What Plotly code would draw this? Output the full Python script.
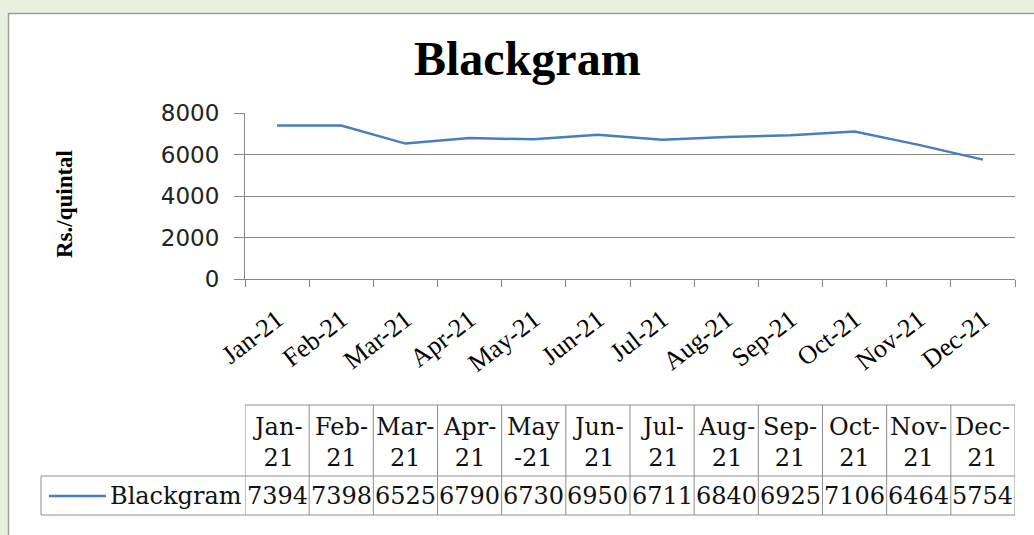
import plotly.graph_objects as go

months = ["Jan-21", "Feb-21", "Mar-21", "Apr-21", "May-21", "Jun-21",
          "Jul-21", "Aug-21", "Sep-21", "Oct-21", "Nov-21", "Dec-21"]
table_headers = ["Jan-<br>21", "Feb-<br>21", "Mar-<br>21", "Apr-<br>21", "May<br>-21", "Jun-<br>21",
                 "Jul-<br>21", "Aug-<br>21", "Sep-<br>21", "Oct-<br>21", "Nov-<br>21", "Dec-<br>21"]
blackgram = [7394, 7398, 6525, 6790, 6730, 6950, 6711, 6840, 6925, 7106, 6464, 5754]
series_name = "Blackgram"
y_ticks = [0, 2000, 4000, 6000, 8000]

W, H = 1034, 535
def px(x):
    return x / W
def py(y):
    return 1 - y / H

line_color = "#4a7ebb"
grid_color = "#878787"
tbl_color = "#8e8e8e"

fig = go.Figure()
fig.add_trace(go.Scatter(x=months, y=blackgram, mode="lines", name=series_name,
                         line=dict(color=line_color, width=2.5), showlegend=False))

shapes = []
# white panel
shapes.append(dict(type="rect", xref="paper", yref="paper", x0=px(8.5), x1=px(1040),
                   y0=py(540), y1=py(13.5), fillcolor="white",
                   line=dict(color="#9a9a9a", width=1.5), layer="below"))

# table
top, mid, bot = py(405), py(476), py(515)
n = len(months)
shapes.append(dict(type="line", xref="x", yref="paper", x0=-0.5, x1=n - 0.5, y0=top, y1=top,
                   line=dict(color=tbl_color, width=1)))
for yy in (mid, bot):
    shapes.append(dict(type="line", xref="paper", yref="paper", x0=px(41), x1=px(245), y0=yy, y1=yy,
                       line=dict(color=tbl_color, width=1)))
    shapes.append(dict(type="line", xref="x", yref="paper", x0=-0.5, x1=n - 0.5, y0=yy, y1=yy,
                       line=dict(color=tbl_color, width=1)))
for i in range(n + 1):
    shapes.append(dict(type="line", xref="x", yref="paper", x0=i - 0.5, x1=i - 0.5, y0=bot, y1=top,
                       line=dict(color=tbl_color, width=1)))
shapes.append(dict(type="line", xref="paper", yref="paper", x0=px(41), x1=px(41), y0=bot, y1=mid,
                   line=dict(color=tbl_color, width=1)))
# legend key
shapes.append(dict(type="line", xref="paper", yref="paper", x0=px(49), x1=px(106), y0=py(496), y1=py(496),
                   line=dict(color=line_color, width=2.5)))

annotations = []
annotations.append(dict(text="<b>Blackgram</b>", xref="paper", yref="paper", x=px(527), y=py(59),
                        xanchor="center", yanchor="middle",
                        showarrow=False, font=dict(family="Liberation Serif", size=48, color="black")))
annotations.append(dict(text="<b>Rs./quintal</b>", xref="paper", yref="paper", x=px(64), y=py(204),
                        xanchor="center", yanchor="middle",
                        showarrow=False, textangle=-90,
                        font=dict(family="Liberation Serif", size=23, color="black")))
tbl_font = dict(family="DejaVu Serif", size=24, color="#111111")
for m, h, v in zip(months, table_headers, blackgram):
    annotations.append(dict(text=h, xref="x", yref="paper", x=m, y=py(442), showarrow=False,
                            xanchor="center", yanchor="middle",
                            font=tbl_font, align="center"))
    annotations.append(dict(text=str(v), xref="x", yref="paper", x=m, y=py(496), showarrow=False,
                            xanchor="center", yanchor="middle",
                            font=tbl_font))
annotations.append(dict(text=series_name, xref="paper", yref="paper", x=px(108), y=py(496),
                        xanchor="left", yanchor="middle",
                        showarrow=False, font=dict(family="DejaVu Serif", size=24, color="#111111")))

fig.update_layout(
    width=W, height=H,
    margin=dict(l=0, r=0, t=0, b=0),
    paper_bgcolor="#e9f0de",
    plot_bgcolor="white",
    shapes=shapes,
    annotations=annotations,
    xaxis=dict(domain=[px(245), px(1015)], type="category", range=[-0.5, n - 0.5],
               automargin=False,
               showgrid=False, showline=True, linecolor=grid_color, linewidth=1,
               ticks="outside", ticklen=7, tickcolor=grid_color, tickson="boundaries",
               tickangle=-38, ticklabelstandoff=14,
               tickfont=dict(family="Liberation Serif", size=26, color="black")),
    yaxis=dict(domain=[py(279), py(113)], range=[0, 8000], tickvals=y_ticks,
               automargin=False,
               showgrid=True, gridcolor=grid_color, gridwidth=1, zeroline=False,
               showline=True, linecolor=grid_color, linewidth=1,
               ticks="outside", ticklen=10, tickcolor=grid_color, ticklabelstandoff=10,
               tickfont=dict(family="DejaVu Sans", size=23, color="#222222")),
)

fig.write_html("out.html", config={"displayModeBar": False},
               post_script="document.body.style.margin='0';document.body.style.overflow='hidden';")
